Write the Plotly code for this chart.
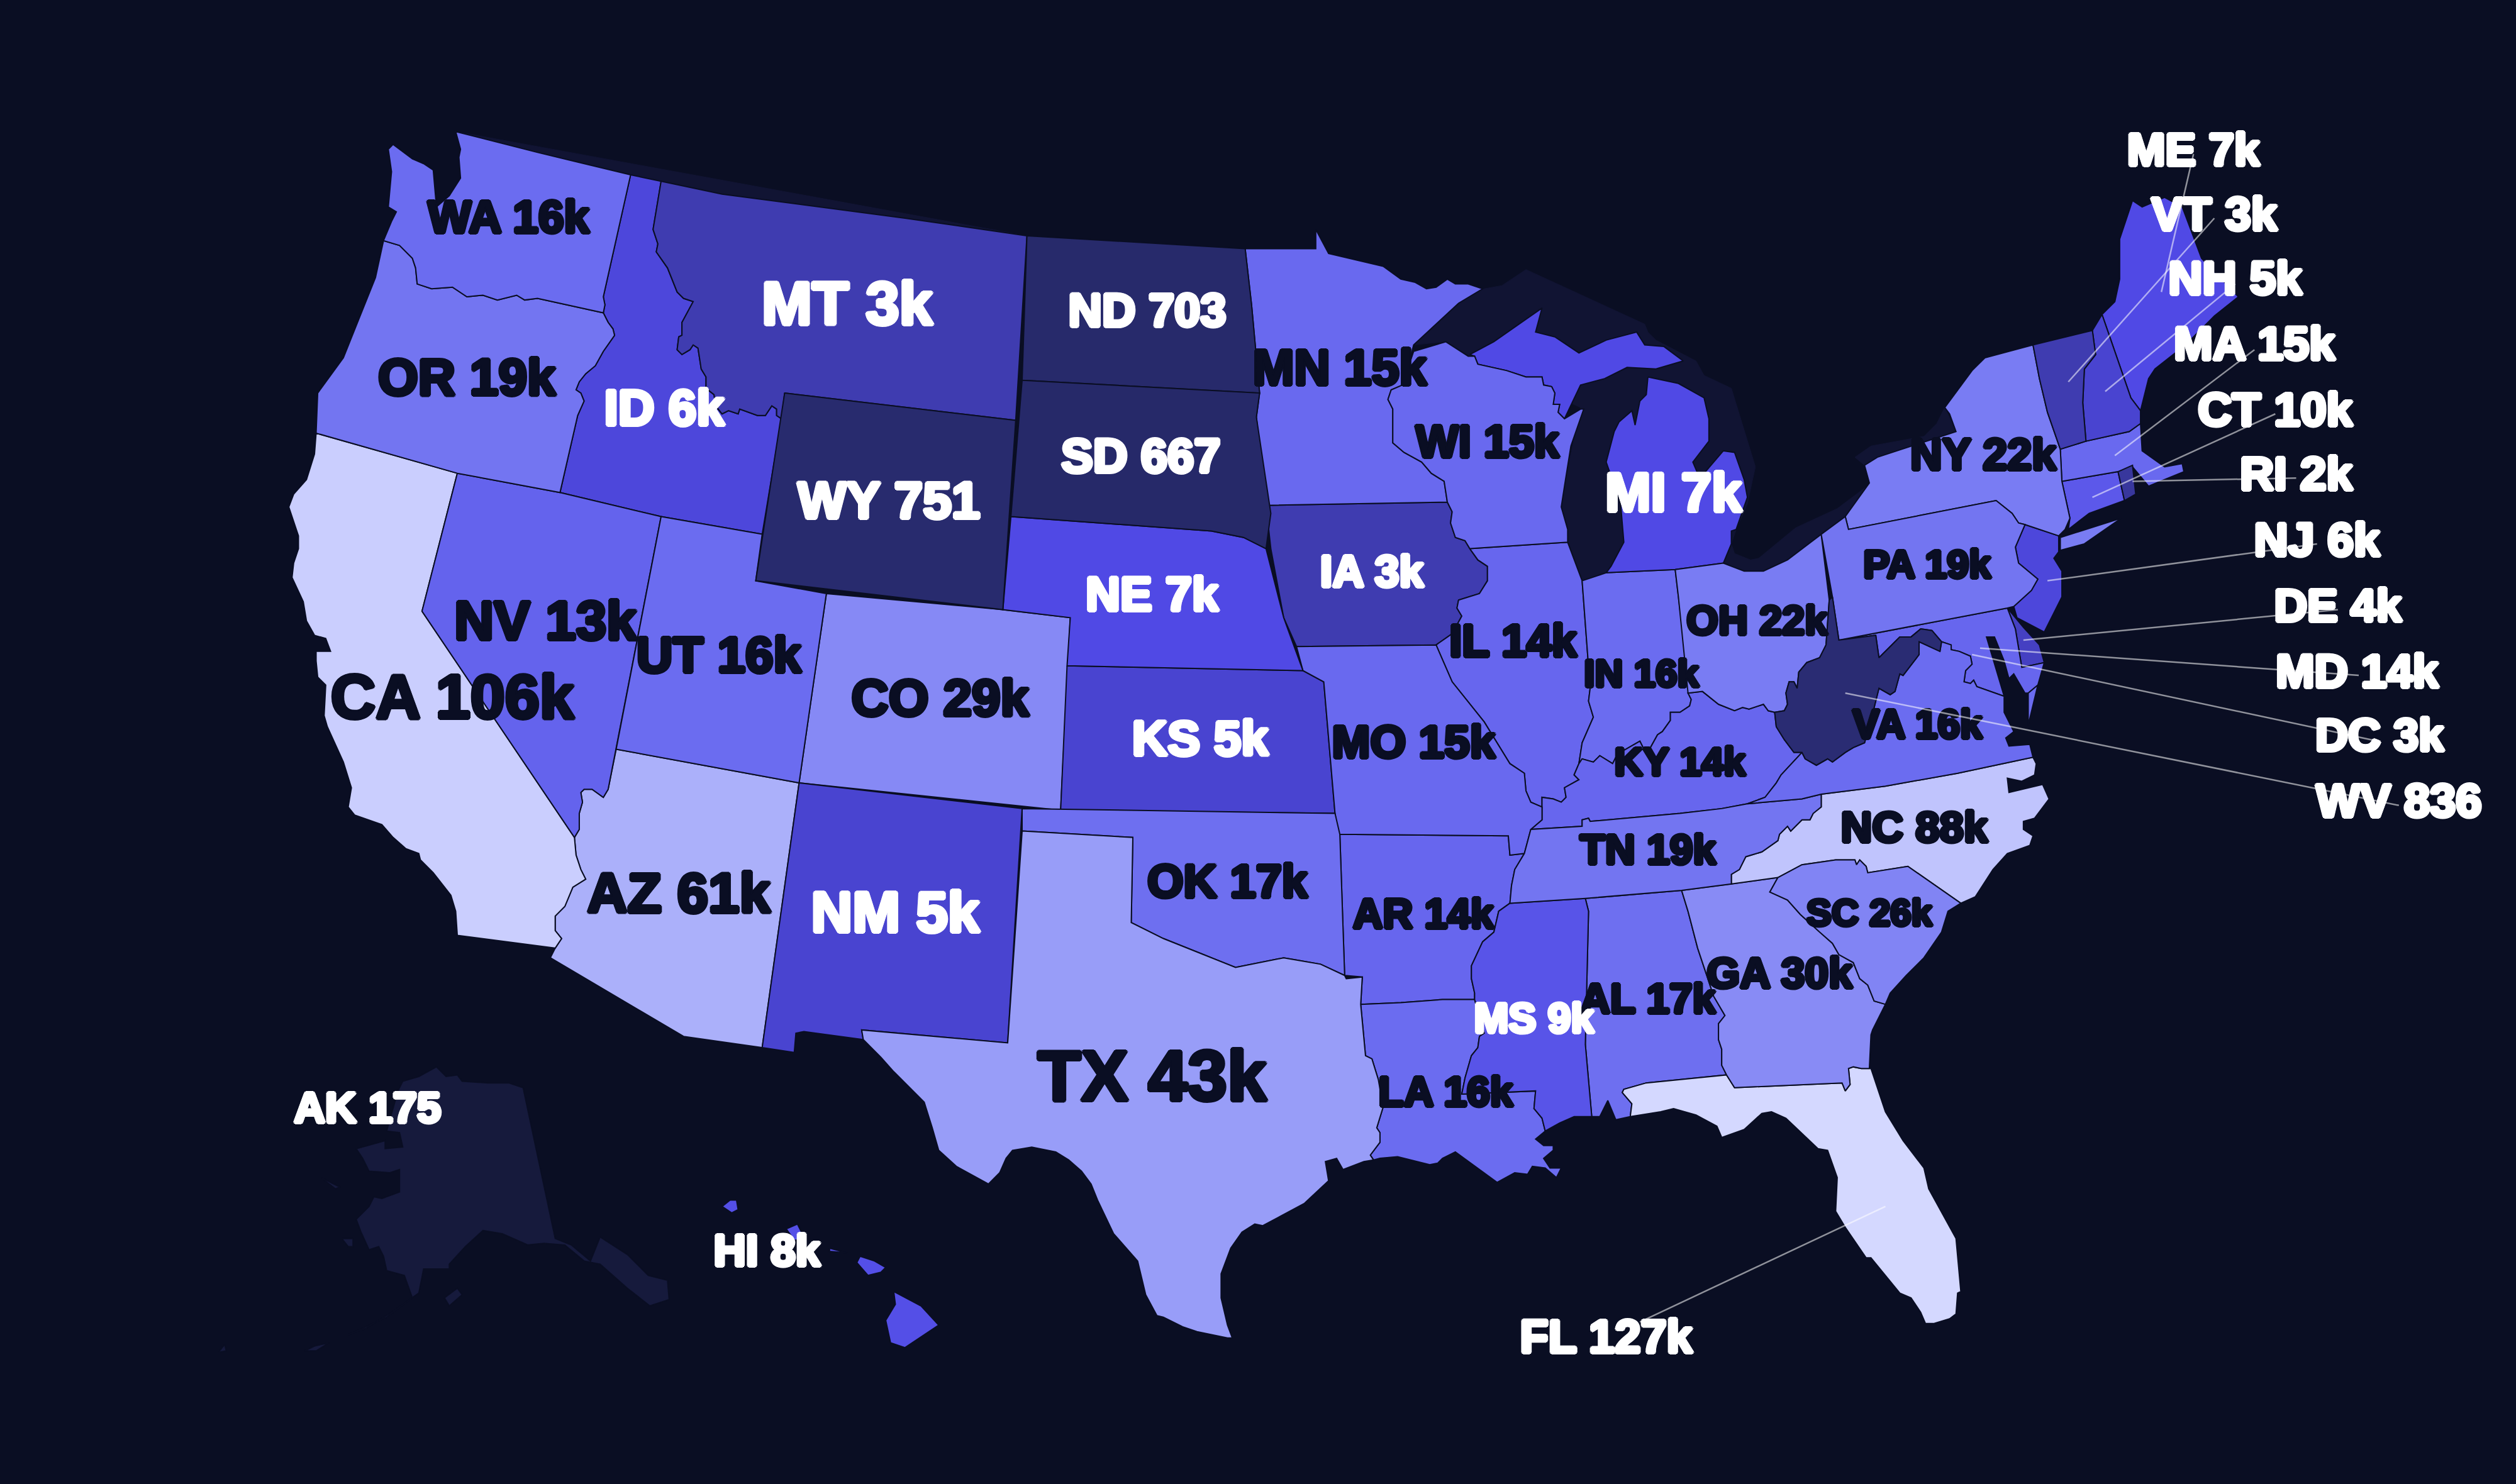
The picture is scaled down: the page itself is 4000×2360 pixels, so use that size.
import math
import plotly.graph_objects as go
from plotly.colors import sample_colorscale

# values as printed on the map
states = ["AK", "AL", "AR", "AZ", "CA", "CO", "CT", "DC", "DE", "FL", "GA", "HI", "IA", "ID", "IL", "IN", "KS",
          "KY", "LA", "MA", "MD", "ME", "MI", "MN", "MO", "MS", "MT", "NC", "ND", "NE", "NH", "NJ", "NM", "NV",
          "NY", "OH", "OK", "OR", "PA", "RI", "SC", "SD", "TN", "TX", "UT", "VA", "VT", "WA", "WI", "WV", "WY"]
values = [175, 17000, 14000, 61000, 106000, 29000, 10000, 3000, 4000, 127000, 30000, 8000, 3000, 6000, 14000,
          16000, 5000, 14000, 16000, 15000, 14000, 7000, 7000, 15000, 15000, 9000, 3000, 88000, 703, 7000, 5000,
          6000, 5000, 13000, 22000, 22000, 17000, 19000, 19000, 2000, 26000, 667, 19000, 43000, 16000, 16000,
          3000, 16000, 15000, 836, 751]

# colour stops, value -> colour on a log scale
stop_values = [175, 700, 3000, 7000, 16000, 43000, 127000]
stop_colors = ["#161a3c", "#272a6b", "#3f3cb0", "#5049e5", "#6b6cf0", "#989df8", "#d4d8ff"]

# label position / size (x, y in the 1568x925 picture units, size in px)
label_x = {"AK": 229, "AL": 1027, "AR": 887, "AZ": 423, "CA": 282, "CO": 586, "CT": 1418, "DC": 1483, "DE": 1457,
           "FL": 1001, "GA": 1109, "HI": 478, "IA": 855, "ID": 414, "IL": 943, "IN": 1023, "KS": 748, "KY": 1047,
           "LA": 901, "MA": 1405, "MD": 1469, "ME": 1367, "MI": 1043, "MN": 835, "MO": 881, "MS": 956, "MT": 528,
           "NC": 1193, "ND": 715, "NE": 718, "NH": 1393, "NJ": 1444, "NM": 558, "NV": 340, "NY": 1236, "OH": 1095,
           "OK": 765, "OR": 291, "PA": 1201, "RI": 1431, "SC": 1165, "SD": 711, "TN": 1027, "TX": 718, "UT": 448,
           "VA": 1195, "VT": 1380, "WA": 317, "WI": 927, "WV": 1495, "WY": 554}
label_y = {"AK": 693, "AL": 625, "AR": 572, "AZ": 560, "CA": 438, "CO": 438, "CT": 258, "DC": 461, "DE": 380,
           "FL": 836, "GA": 609, "HI": 782, "IA": 359, "ID": 257, "IL": 402, "IN": 422, "KS": 463, "KY": 477,
           "LA": 683, "MA": 217, "MD": 421, "ME": 96, "MI": 310, "MN": 232, "MO": 465, "MS": 637, "MT": 193,
           "NC": 518, "ND": 196, "NE": 373, "NH": 176, "NJ": 339, "NM": 572, "NV": 390, "NY": 286, "OH": 389,
           "OK": 552, "OR": 238, "PA": 354, "RI": 298, "SC": 571, "SD": 287, "TN": 532, "TX": 675, "UT": 411,
           "VA": 454, "VT": 136, "WA": 138, "WI": 278, "WV": 502, "WY": 315}
label_size = {"AK": 69, "AL": 66, "AR": 66, "AZ": 89, "CA": 99, "CO": 82, "CT": 75, "DC": 72, "DE": 73, "FL": 74,
              "GA": 68, "HI": 71, "IA": 70, "ID": 80, "IL": 72, "IN": 62, "KS": 78, "KY": 63, "LA": 66, "MA": 74,
              "MD": 74, "ME": 73, "MI": 87, "MN": 79, "MO": 73, "MS": 66, "MT": 96, "NC": 69, "ND": 74, "NE": 76,
              "NH": 75, "NJ": 75, "NM": 91, "NV": 87, "NY": 70, "OH": 65, "OK": 74, "OR": 82, "PA": 63, "RI": 75,
              "SC": 60, "SD": 76, "TN": 66, "TX": 113, "UT": 80, "VA": 64, "VT": 75, "WA": 73, "WI": 72, "WV": 74,
              "WY": 82}
white_labels = ["AK", "CT", "DC", "DE", "FL", "HI", "IA", "ID", "KS", "MA", "MD", "ME", "MI", "MS", "MT", "ND", "NE",
                "NH", "NJ", "NM", "RI", "SD", "VT", "WV", "WY"]

# leader lines: state end, label end
leader_from = {"ME": (1347, 182), "VT": (1289, 238), "NH": (1312, 244), "MA": (1318, 284), "CT": (1304, 310),
               "RI": (1329, 300), "NJ": (1276, 362), "DE": (1261, 399), "MD": (1234, 404), "DC": (1229, 408),
               "WV": (1150, 432), "FL": (1175, 752)}
leader_to = {"ME": (1367, 96), "VT": (1380, 136), "NH": (1393, 177), "MA": (1405, 218), "CT": (1418, 258),
             "RI": (1431, 298), "NJ": (1444, 339), "DE": (1457, 380), "MD": (1470, 421), "DC": (1482, 462),
             "WV": (1495, 502), "FL": (1022, 824)}

# plotly's geo base map needs a topojson from the cdn, so the outlines are traced by hand from the picture
outlines = {
    "WA": [[(284, 82), (335, 95), (393, 109), (376, 185), (377, 190), (376, 195), (335, 186), (327, 187), (322, 184),
            (310, 187), (301, 184), (291, 185), (282, 179), (269, 180), (260, 177), (259, 167), (257, 161), (249, 153),
            (239, 150), (244, 138), (247, 132), (242, 129), (244, 107), (242, 93), (245, 90), (257, 99), (264, 102),
            (270, 106), (272, 129), (280, 122), (287, 111), (286, 98), (287, 93)]],
    "OR": [[(239, 150), (249, 153), (257, 161), (259, 167), (260, 177), (269, 180), (282, 179), (291, 185), (301, 184),
            (310, 187), (322, 184), (327, 187), (335, 186), (376, 195), (379, 201), (382, 205), (383, 209), (376, 219),
            (371, 228), (365, 233), (361, 238), (359, 243), (362, 245), (364, 250), (360, 259), (349, 307), (285, 295),
            (197, 270), (198, 245), (214, 223), (234, 173)]],
    "ID": [[(393, 109), (412, 113), (407, 143), (410, 152), (409, 157), (416, 167), (422, 182), (426, 186), (432, 188),
            (425, 201), (425, 209), (423, 210), (422, 218), (425, 221), (430, 218), (432, 215), (435, 217), (437, 230),
            (440, 235), (440, 242), (445, 246), (446, 253), (450, 258), (454, 256), (460, 258), (461, 255), (472, 259),
            (477, 259), (481, 253), (484, 255), (484, 259), (487, 261), (475, 333), (412, 322), (349, 307), (360, 259),
            (364, 250), (362, 245), (359, 243), (361, 238), (365, 233), (371, 228), (376, 219), (383, 209), (382, 205),
            (379, 201), (376, 195), (377, 190), (376, 185)]],
    "MT": [[(412, 113), (450, 121), (564, 136), (640, 147), (633, 262), (489, 245), (487, 261), (484, 259), (484, 255),
            (481, 253), (477, 259), (472, 259), (461, 255), (460, 258), (454, 256), (450, 258), (446, 253), (445, 246),
            (440, 242), (440, 235), (437, 230), (435, 217), (432, 215), (430, 218), (425, 221), (422, 218), (423, 210),
            (425, 209), (425, 201), (432, 188), (426, 186), (422, 182), (416, 167), (409, 157), (410, 152), (407, 143)]],
    "WY": [[(489, 245), (633, 262), (625, 380), (471, 362)]],
    "ND": [[(640, 147), (776, 155), (780, 190), (785, 245), (637, 237)]],
    "SD": [[(637, 237), (785, 245), (783, 260), (792, 320), (789, 342), (775, 335), (755, 331), (630, 322)]],
    "NE": [[(630, 322), (755, 331), (775, 335), (789, 342), (800, 385), (812, 418), (665, 415), (667, 385), (625, 380)]],
    "CA": [[(197, 270), (285, 295), (263, 381), (358, 522), (359, 533), (362, 542), (365, 548), (357, 553), (352, 565),
            (346, 571), (346, 580), (350, 585), (346, 591), (285, 583), (284, 568), (281, 558), (270, 544), (262, 536),
            (261, 532), (253, 529), (245, 522), (238, 514), (221, 508), (217, 503), (219, 491), (214, 475), (204, 453),
            (202, 446), (203, 427), (198, 422), (197, 412), (197, 406), (206, 406), (203, 398), (196, 396), (191, 387),
            (189, 375), (182, 360), (183, 351), (186, 342), (186, 334), (183, 325), (180, 316), (183, 308), (191, 299),
            (196, 283)]],
    "NV": [[(285, 295), (349, 307), (412, 322), (384, 467), (379, 492), (376, 497), (369, 492), (364, 492), (362, 494),
            (363, 500), (361, 507), (361, 517), (358, 522), (263, 381)]],
    "UT": [[(412, 322), (475, 333), (471, 362), (515, 370), (498, 488), (384, 467)]],
    "CO": [[(515, 370), (625, 380), (667, 385), (661, 505), (498, 488)]],
    "KS": [[(665, 415), (812, 418), (825, 425), (832, 507), (661, 505)]],
    "AZ": [[(384, 467), (498, 488), (475, 653), (426, 646), (343, 597), (346, 591), (350, 585), (346, 580), (346, 571),
            (352, 565), (357, 553), (365, 548), (362, 542), (359, 533), (358, 522), (361, 517), (361, 507), (363, 500),
            (362, 494), (364, 492), (369, 492), (376, 497), (379, 492)]],
    "NM": [[(498, 488), (637, 504), (628, 650), (537, 642), (538, 648), (501, 643), (496, 644), (495, 656), (475, 653)]],
    "OK": [[(637, 504), (832, 507), (835, 520), (838, 608), (823, 601), (800, 597), (770, 603), (750, 595), (725, 585),
            (705, 575), (706, 522), (637, 518)]],
    "TX": [[(637, 518), (706, 522), (705, 575), (725, 585), (750, 595), (770, 603), (800, 597), (823, 601), (838, 608),
            (839, 610), (849, 609), (848, 626), (851, 658), (855, 660), (859, 673), (862, 690), (858, 703), (860, 706),
            (860, 712), (854, 720), (856, 723), (850, 724), (837, 729), (833, 722), (826, 724), (828, 736), (813, 750),
            (787, 764), (782, 763), (774, 768), (767, 778), (761, 794), (761, 809), (764, 822), (765, 826), (768, 834),
            (765, 834), (746, 830), (737, 827), (725, 821), (721, 820), (714, 807), (709, 786), (694, 769), (684, 748),
            (680, 738), (674, 730), (666, 723), (658, 718), (643, 715), (631, 717), (627, 722), (623, 731), (616, 738),
            (596, 727), (585, 717), (581, 703), (576, 687), (557, 668), (549, 659), (543, 653), (538, 648), (537, 642),
            (628, 650)]],
    "MN": [[(776, 155), (820, 155), (820, 143), (828, 158), (862, 166), (873, 174), (882, 176), (889, 180), (895, 179),
            (902, 174), (907, 177), (915, 177), (924, 180), (909, 189), (881, 215), (880, 219), (874, 240), (867, 243),
            (865, 249), (868, 255), (868, 276), (875, 282), (886, 288), (892, 295), (900, 300), (902, 313), (789, 315),
            (783, 260), (785, 245), (780, 190)]],
    "IA": [[(789, 315), (902, 313), (905, 319), (904, 326), (907, 335), (913, 337), (916, 342), (921, 349), (927, 353),
            (927, 362), (922, 370), (909, 374), (908, 379), (911, 384), (905, 395), (895, 402), (808, 403), (800, 385),
            (792, 342)]],
    "MO": [[(808, 403), (895, 402), (905, 425), (925, 450), (941, 476), (950, 482), (951, 493), (954, 500), (961, 503),
            (961, 511), (954, 517), (950, 532), (941, 533), (940, 521), (834, 520), (832, 507), (825, 425), (812, 418)]],
    "AR": [[(834, 520), (940, 521), (941, 533), (950, 532), (944, 542), (942, 552), (941, 563), (934, 568), (931, 581),
            (924, 587), (917, 602), (917, 610), (919, 619), (919, 623), (899, 623), (873, 625), (848, 626), (849, 609),
            (838, 608), (835, 520)]],
    "LA": [[(848, 626), (873, 625), (899, 623), (919, 623), (925, 644), (922, 646), (921, 653), (917, 658), (913, 672),
            (911, 682), (957, 680), (956, 691), (961, 697), (963, 705), (957, 710), (962, 714), (968, 714), (968, 717),
            (962, 722), (966, 728), (973, 728), (970, 734), (963, 728), (955, 727), (952, 732), (944, 731), (933, 737),
            (907, 718), (899, 722), (896, 725), (891, 726), (871, 721), (860, 722), (856, 723), (854, 720), (860, 712),
            (860, 706), (858, 703), (862, 690), (859, 673), (855, 660), (851, 658)]],
    "WI": [[(881, 219), (901, 213), (915, 222), (919, 222), (921, 227), (939, 231), (951, 235), (961, 235), (962, 240),
            (967, 241), (969, 245), (968, 252), (972, 252), (971, 257), (975, 261), (985, 255), (987, 255), (979, 278),
            (975, 303), (973, 316), (977, 330), (977, 338), (916, 342), (913, 337), (907, 335), (904, 326), (905, 319),
            (902, 313), (900, 300), (892, 295), (886, 288), (875, 282), (868, 276), (868, 255), (865, 249), (867, 243),
            (874, 240)]],
    "IL": [[(916, 342), (977, 338), (986, 362), (991, 429), (990, 437), (993, 447), (986, 463), (984, 476), (981, 483),
            (984, 486), (975, 491), (976, 497), (973, 500), (968, 498), (961, 497), (961, 503), (954, 500), (951, 493),
            (950, 482), (941, 476), (925, 450), (905, 425), (895, 402), (905, 395), (911, 384), (908, 379), (909, 374),
            (922, 370), (927, 362), (927, 353), (921, 349)]],
    "IN": [[(986, 362), (1001, 357), (1044, 355), (1046, 372), (1053, 431), (1052, 432), (1054, 436), (1053, 440),
            (1047, 444), (1041, 444), (1041, 449), (1036, 456), (1033, 458), (1028, 467), (1024, 466), (1022, 462),
            (1008, 470), (1005, 476), (997, 471), (993, 475), (986, 473), (984, 476), (986, 463), (993, 447), (990, 437),
            (991, 429)]],
    "OH": [[(1044, 355), (1074, 351), (1087, 356), (1099, 356), (1114, 349), (1135, 333), (1140, 374), (1138, 402),
            (1134, 410), (1126, 413), (1121, 419), (1120, 429), (1118, 425), (1115, 425), (1113, 432), (1114, 439),
            (1112, 443), (1106, 444), (1102, 443), (1099, 439), (1090, 442), (1086, 441), (1081, 443), (1071, 439),
            (1061, 431), (1052, 432), (1046, 372)]],
    "KY": [[(984, 476), (986, 473), (993, 475), (997, 471), (1005, 476), (1008, 470), (1022, 462), (1024, 466), (1028, 467),
            (1033, 458), (1036, 456), (1041, 449), (1041, 444), (1047, 444), (1053, 440), (1054, 436), (1052, 432),
            (1061, 431), (1071, 439), (1081, 443), (1086, 441), (1090, 442), (1099, 439), (1102, 443), (1106, 444),
            (1107, 453), (1112, 461), (1118, 469), (1123, 469), (1110, 483), (1107, 488), (1100, 497), (1089, 501),
            (1073, 504), (1047, 507), (991, 512), (990, 510), (986, 511), (986, 515), (954, 517), (961, 511), (961, 503),
            (961, 497), (968, 498), (973, 500), (976, 497), (975, 491), (984, 486), (981, 483)]],
    "TN": [[(954, 517), (986, 515), (986, 511), (990, 510), (991, 512), (1047, 507), (1073, 504), (1089, 501), (1123, 498),
            (1135, 495), (1135, 503), (1130, 507), (1128, 511), (1123, 511), (1116, 518), (1114, 515), (1109, 520),
            (1108, 524), (1098, 531), (1088, 534), (1084, 542), (1079, 545), (1079, 551), (1048, 555), (988, 560),
            (941, 563), (942, 552), (944, 542), (950, 532)]],
    "MS": [[(941, 563), (988, 560), (990, 568), (988, 651), (992, 696), (981, 696), (972, 700), (963, 705), (961, 697),
            (956, 691), (957, 680), (911, 682), (913, 672), (917, 658), (921, 653), (922, 646), (925, 644), (919, 623),
            (919, 619), (917, 610), (917, 602), (924, 587), (931, 581), (934, 568)]],
    "AL": [[(988, 560), (1048, 555), (1052, 568), (1058, 591), (1068, 621), (1075, 633), (1071, 638), (1071, 648),
            (1073, 654), (1073, 664), (1076, 670), (1026, 675), (1012, 679), (1011, 681), (1017, 688), (1016, 696),
            (1007, 698), (1002, 686), (997, 696), (992, 696), (988, 651), (990, 568)]],
    "GA": [[(1048, 555), (1079, 551), (1108, 547), (1103, 556), (1114, 561), (1122, 570), (1134, 581), (1142, 588),
            (1146, 595), (1155, 600), (1159, 610), (1164, 614), (1168, 624), (1175, 626), (1167, 642), (1166, 645),
            (1165, 666), (1160, 666), (1155, 665), (1152, 666), (1153, 676), (1150, 680), (1148, 675), (1081, 678),
            (1076, 670), (1073, 664), (1073, 654), (1071, 648), (1071, 638), (1075, 633), (1068, 621), (1058, 591),
            (1052, 568)]],
    "FL": [[(1166, 666), (1175, 693), (1186, 711), (1199, 728), (1202, 741), (1219, 772), (1222, 805), (1220, 806),
            (1219, 819), (1215, 822), (1205, 825), (1200, 825), (1197, 818), (1191, 809), (1184, 806), (1166, 784),
            (1163, 784), (1150, 765), (1144, 755), (1145, 734), (1139, 717), (1133, 716), (1113, 697), (1104, 693),
            (1098, 694), (1087, 704), (1073, 709), (1070, 702), (1057, 695), (1043, 691), (1035, 693), (1016, 696),
            (1017, 688), (1011, 681), (1012, 679), (1026, 675), (1076, 670), (1081, 678), (1148, 675), (1150, 680),
            (1153, 676), (1152, 666), (1155, 665), (1160, 666)]],
    "SC": [[(1108, 547), (1123, 539), (1144, 536), (1156, 536), (1157, 539), (1159, 536), (1163, 540), (1164, 544),
            (1189, 540), (1222, 563), (1214, 568), (1210, 581), (1199, 597), (1188, 608), (1178, 619), (1175, 626),
            (1168, 624), (1164, 614), (1159, 610), (1155, 600), (1146, 595), (1142, 588), (1134, 581), (1122, 570),
            (1114, 561), (1103, 556)]],
    "NC": [[(1135, 495), (1175, 490), (1220, 482), (1267, 472), (1269, 476), (1268, 483), (1260, 487), (1251, 485),
            (1252, 494), (1273, 489), (1277, 498), (1268, 510), (1261, 512), (1261, 517), (1267, 521), (1265, 527),
            (1251, 532), (1242, 542), (1231, 559), (1222, 563), (1189, 540), (1164, 544), (1163, 540), (1159, 536),
            (1157, 539), (1156, 536), (1144, 536), (1123, 539), (1108, 547), (1079, 551), (1079, 545), (1084, 542),
            (1088, 534), (1098, 531), (1108, 524), (1109, 520), (1114, 515), (1116, 518), (1123, 511), (1128, 511),
            (1130, 507), (1135, 503)]],
    "VA": [[(1123, 469), (1125, 473), (1132, 477), (1139, 473), (1142, 475), (1150, 469), (1155, 466), (1162, 463),
            (1167, 445), (1171, 429), (1178, 433), (1181, 431), (1184, 420), (1186, 421), (1196, 408), (1196, 400),
            (1209, 406), (1210, 400), (1216, 402), (1216, 405), (1221, 406), (1228, 409), (1229, 414), (1225, 418),
            (1224, 425), (1228, 426), (1230, 424), (1232, 428), (1249, 434), (1249, 444), (1255, 456), (1250, 460),
            (1252, 465), (1265, 464), (1267, 472), (1220, 482), (1175, 490), (1135, 495), (1123, 498), (1089, 501),
            (1100, 497), (1107, 488), (1110, 483)],
           [(1264, 452), (1264, 432), (1270, 427)]],
    "WV": [[(1138, 402), (1140, 374), (1142, 372), (1146, 399), (1169, 396), (1171, 410), (1178, 403), (1184, 397),
            (1191, 397), (1197, 392), (1204, 393), (1210, 400), (1209, 406), (1196, 400), (1196, 408), (1186, 421),
            (1184, 420), (1181, 431), (1178, 433), (1171, 429), (1167, 445), (1162, 463), (1155, 466), (1150, 469),
            (1142, 475), (1139, 473), (1132, 477), (1125, 473), (1123, 469), (1118, 469), (1112, 461), (1107, 453),
            (1106, 444), (1112, 443), (1114, 439), (1113, 432), (1115, 425), (1118, 425), (1120, 429), (1121, 419),
            (1126, 413), (1134, 410)]],
    "PA": [[(1135, 333), (1150, 322), (1152, 330), (1244, 312), (1254, 320), (1258, 326), (1262, 327), (1256, 341),
            (1258, 351), (1270, 361), (1266, 368), (1255, 378), (1251, 379), (1146, 399), (1142, 372)]],
    "MD": [[(1146, 399), (1251, 379), (1256, 392), (1260, 416), (1274, 413), (1270, 427), (1264, 432), (1262, 432),
            (1255, 420), (1252, 423), (1249, 412), (1243, 397), (1238, 397), (1249, 434), (1232, 428), (1230, 424),
            (1228, 426), (1224, 425), (1225, 418), (1229, 414), (1228, 409), (1221, 406), (1216, 405), (1216, 402),
            (1210, 400), (1204, 393), (1197, 392), (1191, 397), (1184, 397), (1178, 403), (1171, 410), (1169, 396)]],
    "DE": [[(1251, 379), (1256, 385), (1261, 391), (1271, 402), (1274, 413), (1260, 416), (1256, 392)]],
    "DC": [[(1226, 406), (1230, 409), (1228, 411)]],
    "NJ": [[(1262, 327), (1283, 334), (1283, 344), (1280, 348), (1285, 356), (1285, 372), (1274, 394), (1257, 385),
            (1255, 378), (1266, 368), (1270, 361), (1258, 351), (1256, 341)]],
    "NY": [[(1237, 223), (1267, 215), (1271, 236), (1276, 257), (1284, 280), (1285, 300), (1290, 323), (1287, 330),
            (1283, 334), (1262, 327), (1258, 326), (1254, 320), (1244, 312), (1152, 330), (1150, 322), (1165, 301),
            (1162, 290), (1170, 285), (1219, 269), (1215, 258), (1212, 254), (1229, 231)],
           [(1284, 335), (1322, 323), (1299, 339), (1284, 343)]],
    "VT": [[(1267, 215), (1304, 206), (1306, 221), (1299, 230), (1298, 251), (1300, 275), (1284, 280), (1276, 257),
            (1271, 236)]],
    "NH": [[(1304, 206), (1310, 196), (1328, 248), (1334, 256), (1334, 264), (1327, 269), (1300, 275), (1298, 251),
            (1299, 230), (1306, 221)]],
    "ME": [[(1329, 125), (1335, 129), (1349, 123), (1360, 129), (1372, 161), (1395, 185), (1380, 197), (1362, 215),
            (1343, 230), (1339, 236), (1334, 256), (1328, 248), (1310, 196), (1318, 188), (1321, 174), (1321, 149)]],
    "MA": [[(1284, 280), (1300, 275), (1327, 269), (1334, 264), (1335, 281), (1349, 291), (1360, 289), (1361, 294),
            (1339, 303), (1329, 291), (1320, 294), (1285, 300)]],
    "RI": [[(1320, 294), (1329, 290), (1331, 308), (1324, 312)]],
    "CT": [[(1285, 300), (1320, 294), (1324, 312), (1302, 320), (1289, 330), (1290, 323)]],
    "MI": [[(916, 221), (931, 213), (961, 192), (957, 207), (969, 210), (984, 220), (1001, 212), (1020, 207), (1025, 215),
            (1037, 216), (1049, 225), (1032, 230), (1014, 229), (1000, 236), (985, 240), (975, 261), (971, 257),
            (972, 252), (968, 252), (969, 245), (967, 241), (962, 240), (961, 235), (951, 235), (939, 231), (921, 227),
            (919, 222)],
           [(1027, 235), (1046, 239), (1062, 248), (1065, 261), (1065, 275), (1055, 288), (1058, 295), (1062, 295),
            (1074, 281), (1081, 282), (1087, 299), (1089, 310), (1082, 330), (1079, 331), (1079, 339), (1074, 351),
            (1044, 355), (1001, 357), (1004, 353), (1012, 338), (1010, 314), (1001, 288), (1006, 269), (1009, 263),
            (1017, 256), (1019, 265), (1022, 250), (1026, 246)]],
    "AK": [[(272, 665), (278, 671), (285, 670), (288, 674), (304, 675), (317, 675), (326, 678), (346, 772), (356, 776),
            (368, 786), (374, 771), (391, 782), (404, 795), (416, 798), (417, 810), (405, 814), (391, 803), (374, 788),
            (364, 786), (352, 776), (339, 775), (329, 776), (313, 769), (301, 767), (290, 777), (280, 788), (280, 791),
            (264, 791), (261, 806), (244, 818), (228, 828), (217, 832), (241, 821), (257, 809), (252, 795), (241, 792),
            (239, 783), (236, 777), (230, 779), (225, 768), (222, 760), (230, 752), (233, 746), (238, 747), (249, 743),
            (249, 729), (243, 731), (230, 730), (226, 722), (222, 716), (240, 711), (240, 716), (251, 715), (249, 706),
            (241, 705), (248, 680), (251, 674), (261, 671)],
           [(277, 809), (285, 803), (288, 807), (280, 814)],
           [(213, 772), (220, 772), (220, 777), (217, 777)],
           [(200, 734), (212, 740), (209, 741)],
           [(190, 842), (196, 839), (205, 837), (197, 842)],
           [(136, 843), (140, 838), (141, 842)]],
    "HI": [[(450, 752), (455, 748), (459, 748), (460, 754), (456, 756)],
           [(490, 766), (497, 763), (502, 773), (495, 773)],
           [(517, 778), (528, 781), (517, 780)],
           [(536, 783), (545, 786), (552, 790), (549, 793), (541, 795), (534, 787)],
           [(557, 805), (574, 814), (585, 826), (564, 840), (555, 837), (552, 823), (558, 813)]],
}

# great lakes and the border strip, sits under the states
lakes = [[(925, 180), (936, 178), (951, 168), (1025, 202), (1027, 207), (1032, 212), (1057, 225), (1062, 234), (1079, 242),
          (1094, 291), (1089, 314), (1082, 330), (1079, 339), (1081, 345), (1091, 349), (1096, 348), (1119, 329),
          (1145, 317), (1165, 302), (1150, 323), (1135, 333), (1114, 349), (1099, 356), (1087, 356), (1074, 351),
          (1002, 357), (995, 362), (986, 362), (977, 344), (972, 316), (985, 254), (915, 222), (901, 213), (881, 215),
          (909, 189)],
         [(1212, 254), (1207, 264), (1199, 272), (1166, 278), (1156, 285), (1162, 290), (1170, 285), (1219, 269)],
         [(284, 82), (640, 147), (564, 136), (450, 121), (393, 109), (335, 95)]]

BG = "#0a0e23"
LAKE = "#111433"


def state_color(value):
    # piecewise linear in log(value) between the stops
    lo, hi = math.log(stop_values[0]), math.log(stop_values[-1])
    scale = [[(math.log(v) - lo) / (hi - lo), c] for v, c in zip(stop_values, stop_colors)]
    return sample_colorscale(scale, [(math.log(value) - lo) / (hi - lo)])[0]


def unpack(parts):
    xs, ys = [], []
    for part in parts:
        xs += [p[0] for p in part] + [part[0][0], None]
        ys += [p[1] for p in part] + [part[0][1], None]
    return xs, ys


def short(value):
    return str(value) if value < 1000 else f"{value // 1000}k"


fig = go.Figure()

x, y = unpack(lakes)
fig.add_trace(go.Scatter(x=x, y=y, mode="lines", fill="toself", fillcolor=LAKE, line=dict(color=LAKE, width=1),
                         hoverinfo="skip"))

for state, value in zip(states, values):
    x, y = unpack(outlines[state])
    fig.add_trace(go.Scatter(x=x, y=y, mode="lines", fill="toself", fillcolor=state_color(value),
                             line=dict(color=BG, width=2), name=state, hoveron="fills",
                             text=f"{state} {short(value)}", hoverinfo="text"))

# labels, thickened with a text shadow to get the heavy weight
for color, members in [(BG, [s for s in states if s not in white_labels]), ("#ffffff", white_labels)]:
    thick = ",".join(f"{dx}px {dy}px 0 {color}" for dx, dy in
                     [(3, 0), (-3, 0), (0, 3), (0, -3), (2, 2), (-2, -2), (2, -2), (-2, 2)])
    fig.add_trace(go.Scatter(
        x=[label_x[s] for s in members], y=[label_y[s] for s in members], mode="text",
        text=[f"{s} {short(values[states.index(s)])}" for s in members], textposition="middle center",
        textfont=dict(family="Liberation Sans", weight="bold", color=color, shadow=thick,
                      size=[label_size[s] for s in members]),
        hoverinfo="skip"))

line_x, line_y = [], []
for s in leader_from:
    line_x += [leader_from[s][0], leader_to[s][0], None]
    line_y += [leader_from[s][1], leader_to[s][1], None]
fig.add_trace(go.Scatter(x=line_x, y=line_y, mode="lines", line=dict(color="rgba(255,255,255,0.55)", width=2.5),
                         hoverinfo="skip"))

fig.update_xaxes(range=[0, 1568], visible=False, fixedrange=True)
fig.update_yaxes(range=[925, 0], visible=False, fixedrange=True)
fig.update_layout(width=4000, height=2360, margin=dict(l=0, r=0, t=0, b=0), showlegend=False,
                  paper_bgcolor=BG, plot_bgcolor=BG)
fig.write_html("out.html", config={"displayModeBar": False},
               post_script="document.body.style.margin='0';document.body.style.background='#0a0e23';")
